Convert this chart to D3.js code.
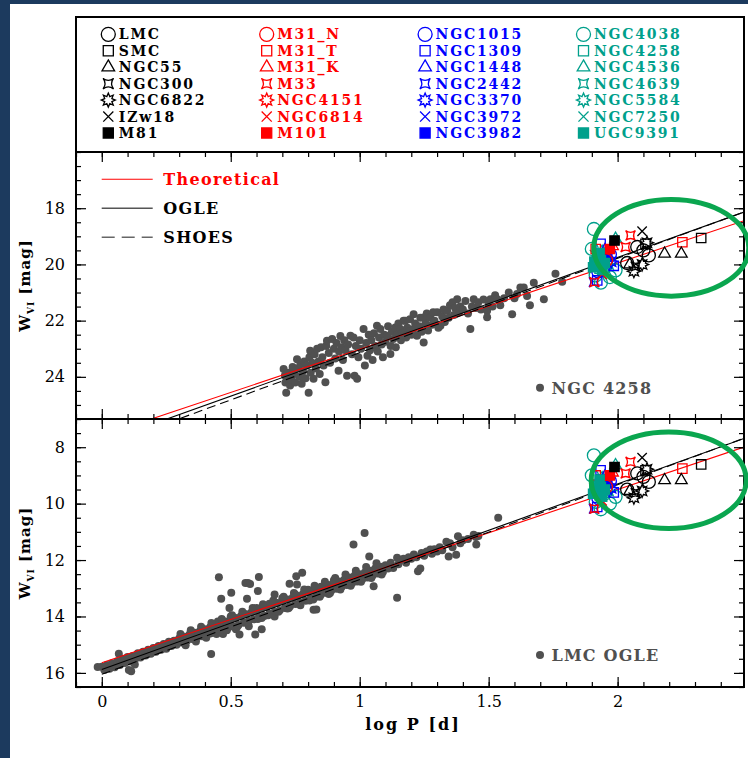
<!DOCTYPE html>
<html>
<head>
<meta charset="UTF-8">
<script src="https://d3js.org/d3.v7.min.js"></script>
<style>
  body { margin: 0; background: #1c3a5e; }
  svg { display: block; }
  .tick text { font-family: "DejaVu Serif", serif; font-size: 16px; fill: #000; }
  .lbl { font-family: "DejaVu Serif", serif; font-weight: bold; }
</style>
</head>
<body>
<div id="chart"></div>
<script>
// ---- data ----
// NGC 4258 Cepheids [logP, W_VI]
const ngc4258Points = [
  [0.705,23.72],[0.71,23.95],[0.712,24.2],[0.715,24.57],[0.72,24.05],[0.725,23.85],[0.73,24.31],[0.735,24.1],
  [0.74,23.65],[0.745,23.9],[0.75,24.2],[0.757,23.37],[0.76,23.7],[0.765,24.0],[0.77,23.55],[0.775,24.25],
  [0.78,23.8],[0.785,23.45],[0.79,24.05],[0.795,23.6],[0.802,24.57],[0.805,23.3],[0.808,23.07],[0.81,23.85],
  [0.815,23.5],[0.821,24.07],[0.825,23.2],[0.83,23.7],[0.835,23.0],[0.84,23.45],[0.845,23.9],[0.85,22.95],
  [0.855,23.3],[0.86,23.6],[0.867,24.19],[0.87,22.9],[0.873,22.72],[0.88,23.15],[0.885,23.5],[0.893,22.65],
  [0.9,23.0],[0.905,23.35],[0.91,22.8],[0.918,23.78],[0.92,23.1],[0.925,22.55],[0.93,22.95],[0.935,23.4],
  [0.94,22.7],[0.945,23.05],[0.951,23.96],[0.955,22.85],[0.964,22.54],[0.97,23.2],[0.976,22.6],[0.98,23.96],
  [0.985,22.9],[0.99,24.07],[0.995,23.3],[1.0,22.7],[1.005,23.0],[1.015,22.3],[1.02,23.6],[1.025,22.8],
  [1.03,23.25],[1.035,22.5],[1.04,23.05],[1.045,22.7],[1.05,23.4],[1.055,22.45],[1.06,22.9],[1.067,22.18],
  [1.07,23.1],[1.075,22.6],[1.08,22.3],[1.085,22.85],[1.09,23.3],[1.095,22.5],[1.1,22.75],[1.106,22.54],
  [1.11,22.2],[1.119,23.19],[1.12,22.9],[1.125,22.4],[1.13,22.65],[1.138,22.24],[1.14,22.95],[1.145,22.5],
  [1.15,22.1],[1.158,22.3],[1.16,22.7],[1.165,22.45],[1.17,22.0],[1.177,22.0],[1.18,22.6],[1.185,22.25],
  [1.19,22.4],[1.195,21.95],[1.2,22.5],[1.209,21.77],[1.209,22.3],[1.215,22.1],[1.222,22.54],[1.23,22.2],
  [1.235,21.9],[1.24,22.4],[1.248,21.89],[1.248,22.78],[1.255,22.1],[1.26,21.75],[1.265,22.35],[1.274,21.89],
  [1.28,22.15],[1.285,21.7],[1.29,22.0],[1.3,21.7],[1.305,22.25],[1.313,22.18],[1.32,21.85],[1.325,21.6],
  [1.33,22.05],[1.339,21.65],[1.345,21.9],[1.35,21.45],[1.36,21.35],[1.365,21.8],[1.37,21.55],[1.378,21.24],
  [1.385,21.7],[1.39,21.5],[1.4,21.6],[1.41,21.3],[1.42,21.75],[1.429,22.3],[1.435,21.5],[1.442,21.24],
  [1.45,21.55],[1.46,21.35],[1.47,21.6],[1.48,21.25],[1.494,21.65],[1.494,21.88],[1.5,21.4],[1.507,21.24],
  [1.515,21.5],[1.525,21.1],[1.533,21.24],[1.545,21.45],[1.56,21.2],[1.578,21.0],[1.591,21.77],[1.6,21.2],
  [1.61,21.05],[1.623,20.82],[1.636,20.82],[1.649,21.12],[1.66,21.45],[1.675,20.65],[1.714,21.24],
  [1.759,20.33],[1.785,20.62]
];

// LMC OGLE Cepheids [logP, W_VI]
const lmcPoints = [
  [0.00,15.78],[0.01,15.90],[0.02,15.72],[0.03,15.85],[0.04,15.66],[0.05,15.80],[0.06,15.60],[0.07,15.72],
  [0.08,15.50],[0.09,15.65],[0.10,15.44],[0.11,15.60],[0.12,15.40],[0.13,15.50],[0.14,15.30],[0.15,15.45],
  [0.16,15.25],[0.17,15.38],[0.18,15.18],[0.19,15.32],[0.20,15.12],[0.21,15.25],[0.22,15.05],[0.23,15.18],
  [0.24,14.98],[0.25,15.14],[0.26,14.90],[0.27,15.05],[0.28,14.86],[0.29,15.00],[0.30,14.78],[0.31,14.92],
  [0.32,14.72],[0.33,14.86],[0.34,14.64],[0.35,14.80],[0.36,14.58],[0.37,14.74],[0.38,14.52],[0.39,14.70],
  [0.40,14.45],[0.41,14.62],[0.42,14.38],[0.43,14.58],[0.44,14.32],[0.45,14.50],[0.46,14.25],[0.47,14.45],
  [0.48,14.18],[0.49,14.40],[0.50,14.12],[0.51,14.35],[0.52,14.05],[0.53,14.30],[0.54,13.98],[0.55,14.22],
  [0.56,13.92],[0.57,14.16],[0.58,13.86],[0.59,14.10],[0.60,13.80],[0.61,14.02],[0.62,13.72],[0.63,13.98],
  [0.64,13.66],[0.65,13.90],[0.66,13.60],[0.67,13.84],[0.68,13.52],[0.69,13.78],[0.70,13.46],[0.71,13.70],
  [0.72,13.40],[0.73,13.64],[0.74,13.34],[0.75,13.56],[0.76,13.27],[0.77,13.50],[0.78,13.20],[0.79,13.44],
  [0.80,13.14],[0.81,13.36],[0.82,13.08],[0.83,13.30],[0.84,13.02],[0.85,13.22],[0.86,12.95],[0.87,13.16],
  [0.88,12.88],[0.89,13.08],[0.90,12.82],[0.91,13.02],[0.92,12.76],[0.93,12.95],[0.94,12.70],[0.95,12.88],
  [0.96,12.62],[0.97,12.82],[0.98,12.56],[0.99,12.76],[1.00,12.50],[1.01,12.68],[1.02,12.44],[1.03,12.62],
  [1.04,12.38],[1.05,12.55],[1.06,12.30],[1.07,12.48],[1.08,12.24],[1.09,12.42],[1.10,12.18],
  [0.42,14.60],[0.45,14.18],[0.47,14.62],[0.50,14.00],[0.52,14.45],[0.55,13.90],[0.57,14.35],[0.60,13.70],
  [0.62,14.05],[0.65,13.55],[0.67,14.00],[0.70,13.35],[0.72,13.72],[0.75,13.22],[0.77,13.60],[0.80,13.05],
  [0.82,13.40],[0.85,12.95],[0.88,13.20],[0.90,12.72],
  [0.305,14.62],[0.345,14.49],[0.385,14.36],[0.425,14.23],[0.465,14.09],[0.505,13.96],[0.545,13.83],
  [0.585,13.70],[0.625,13.57],[0.665,13.43],[0.705,13.30],[0.745,13.17],[0.785,13.04],[0.825,12.91],
  [0.865,12.77],[0.905,12.64],[0.945,12.51],[0.985,12.38],[1.025,12.25],[1.065,12.11],
  [0.325,15.02],[0.365,14.89],[0.405,14.75],[0.445,14.62],[0.485,14.49],[0.525,14.36],[0.565,14.23],
  [0.605,14.09],[0.645,13.96],[0.685,13.83],[0.725,13.70],[0.765,13.57],[0.805,13.43],[0.845,13.30],
  [0.885,13.17],[0.925,13.04],[0.965,12.91],[1.005,12.77],[1.045,12.64],[1.085,12.51],
  [1.11,12.30],[1.12,12.10],[1.13,12.28],[1.145,11.92],[1.15,12.15],[1.16,12.00],[1.17,11.95],[1.18,12.10],
  [1.19,11.90],[1.20,11.95],[1.21,11.80],[1.22,11.90],[1.226,12.40],[1.235,12.30],[1.24,11.75],[1.25,11.85],
  [1.26,11.70],[1.274,11.63],[1.28,11.78],[1.29,11.62],[1.30,11.70],[1.31,11.55],[1.32,11.65],[1.336,11.35],
  [1.345,11.87],[1.35,11.40],[1.36,11.55],[1.374,11.81],[1.381,11.16],[1.39,11.40],[1.40,11.30],[1.42,11.25],
  [1.442,11.10],[1.45,11.18],[1.452,11.45],[1.46,11.15],[1.537,10.50],
  [0.454,12.61],[0.609,12.60],[0.567,12.81],[0.557,12.81],[0.575,12.85],[0.605,13.10],[0.463,13.37],
  [0.502,13.16],[0.563,13.37],[0.495,13.70],[0.728,12.84],[0.754,12.57],[0.777,12.45],[0.757,12.87],
  [0.670,13.22],[0.832,13.75],[0.821,13.76],[0.424,15.33],[0.534,14.64],[0.595,14.64],[0.62,14.45],
  [0.114,15.94],[0.105,15.90],[-0.016,15.79],[0.066,15.32],[0.128,15.70],[1.019,11.04],[0.976,11.45],
  [1.037,11.87],[1.054,12.93],[1.145,13.34]
];

// legend galaxies: 4 columns x 7 rows
const galaxyNames = [
  "LMC","SMC","NGC55","NGC300","NGC6822","IZw18","M81",
  "M31_N","M31_T","M31_K","M33","NGC4151","NGC6814","M101",
  "NGC1015","NGC1309","NGC1448","NGC2442","NGC3370","NGC3972","NGC3982",
  "NGC4038","NGC4258","NGC4536","NGC4639","NGC5584","NGC7250","UGC9391"
];
const columnColors = ["#000000", "#ff0000", "#0000ff", "#00a08c"];
const rowSymbols = ["circle","square","triangle","star4","star8","cross","filled"];

// ultra long period Cepheids [galaxy, logP, W_VI (LMC panel scale)]
const ulpStars = [
  ["NGC4038",1.908,8.29],["NGC4038",1.915,9.94],["NGC4038",1.992,9.76],["NGC4038",1.95,9.65],["NGC4038",1.90,9.0],
  ["NGC4038",1.97,10.0],["NGC4038",1.935,10.2],
  ["NGC4258",1.93,9.7],["NGC4536",1.992,8.64],["NGC4536",1.94,9.1],["NGC4639",1.92,9.35],
  ["NGC5584",1.945,9.25],["NGC5584",1.965,9.55],["NGC7250",1.91,9.2],["NGC7250",1.925,9.55],
  ["NGC1015",1.97,9.2],["NGC1015",1.925,9.8],["NGC1309",1.934,8.82],["NGC1309",1.921,10.12],["NGC1309",1.985,9.6],
  ["NGC1448",1.95,9.05],["NGC2442",1.908,10.18],["NGC2442",1.93,9.3],["NGC3370",1.96,9.3],["NGC3370",1.975,9.45],
  ["NGC3972",1.94,9.5],["NGC3982",1.96,9.15],["NGC3982",1.92,9.45],
  ["M31_N",1.955,9.4],["M31_T",2.251,8.76],["M31_T",1.915,9.0],["M31_K",1.98,8.9],
  ["M33",2.050,8.52],["M33",2.031,8.93],["M33",1.91,10.18],["NGC4151",1.93,9.6],["NGC6814",1.94,9.9],["M101",1.97,9.0],
  ["UGC9391",1.91,9.45],["UGC9391",1.92,9.6],["UGC9391",1.935,9.4],["UGC9391",1.93,9.15],["UGC9391",1.905,9.65],
  ["UGC9391",1.95,9.5],["UGC9391",1.94,9.75],
  ["M81",1.988,8.70],["LMC",2.076,8.93],["LMC",2.121,9.23],["LMC",2.037,9.50],["LMC",2.10,9.05],
  ["SMC",2.324,8.61],["SMC",2.108,8.82],["NGC55",2.182,9.17],["NGC55",2.247,9.17],["NGC55",2.047,9.55],
  ["NGC300",2.07,9.62],["NGC6822",2.063,9.79],["NGC6822",2.095,9.55],["NGC6822",2.114,8.78],["IZw18",2.095,8.37]
];

// PL relations W = a + b logP (LMC panel scale)
const relNames = ["Theoretical", "OGLE", "SHOES"];
const relIntercepts = [15.64, 15.88, 16.05];
const relSlopes = [-3.07, -3.29, -3.36];

// ---- drawing ----
const width = 748, height = 758;
const left = 76, right = 744;

const svg = d3.select("#chart").append("svg").attr("width", width).attr("height", height);
svg.append("rect").attr("width", width).attr("height", height).attr("fill", "#1c3a5e");
svg.append("rect").attr("x", 10).attr("y", 4).attr("width", width - 10).attr("height", height - 4).attr("fill", "#fff");

const x = d3.scaleLinear().domain([-0.1, 2.49]).range([left, right]);

function symbolPath(type, s) {
  switch (type) {
    case "circle": return `M${s},0A${s},${s} 0 1,1 ${-s},0A${s},${s} 0 1,1 ${s},0Z`;
    case "square":
    case "filled": { const h = s * 0.72; return `M${-h},${-h}H${h}V${h}H${-h}Z`; }
    case "triangle": { const a = s * 1.8, h = a * 0.866; return `M0,${-2 * h / 3}L${a / 2},${h / 3}L${-a / 2},${h / 3}Z`; }
    case "star4": { const r = s * 0.75, k = r * 0.25;
      return `M${-r},${-r}Q0,${-k} ${r},${-r}Q${k},0 ${r},${r}Q0,${k} ${-r},${r}Q${-k},0 ${-r},${-r}Z`; }
    case "star8": { const pts = d3.range(16).map(i => {
        const a = i * Math.PI / 8 - Math.PI / 2, r = i % 2 ? s * 0.55 : s;
        return [r * Math.cos(a), r * Math.sin(a)]; });
      return "M" + pts.map(p => p.join(",")).join("L") + "Z"; }
    case "cross": { const h = s * 0.72; return `M${-h},${-h}L${h},${h}M${-h},${h}L${h},${-h}`; }
  }
}

function drawSymbol(g, type, color, cx, cy, s) {
  g.append("path")
    .attr("d", symbolPath(type, s))
    .attr("transform", `translate(${cx},${cy})`)
    .attr("fill", type === "filled" ? color : "none")
    .attr("stroke", color)
    .attr("stroke-width", 1.3);
}

// legend box
const legend = svg.append("g");
legend.append("rect").attr("x", left).attr("y", 17).attr("width", right - left).attr("height", 135)
  .attr("fill", "none").attr("stroke", "#000").attr("stroke-width", 2);
galaxyNames.forEach((name, i) => {
  const col = Math.floor(i / 7), row = i % 7;
  const cx = 108.3 + col * 158.4, cy = 34.3 + row * 16.45;
  drawSymbol(legend, rowSymbols[row], columnColors[col], cx, cy, 7);
  legend.append("text").attr("class", "lbl")
    .attr("x", cx + 10.5).attr("y", cy + 5)
    .attr("font-size", 14).attr("letter-spacing", 1.8)
    .attr("fill", columnColors[col]).text(name);
});

const panels = [
  {label: "NGC 4258", top: 152, bottom: 419, yDomain: [16, 25.5], yTicks: [18, 20, 22, 24], shift: 10.45,
   dots: ngc4258Points, ellipse: [2.208, 19.41], legend: true, xLabels: false},
  {label: "LMC OGLE", top: 419, bottom: 687, yDomain: [7, 16.5], yTicks: [8, 10, 12, 14, 16], shift: 0,
   dots: lmcPoints, ellipse: [2.198, 9.17], legend: false, xLabels: true}
];

const relStyle = [
  {stroke: "#ff0000", dash: null},
  {stroke: "#000000", dash: null},
  {stroke: "#000000", dash: "9,5"}
];

panels.forEach((p, pi) => {
  const y = d3.scaleLinear().domain(p.yDomain).range([p.top, p.bottom]);
  const g = svg.append("g");
  const clipId = "clip" + pi;
  g.append("clipPath").attr("id", clipId).append("rect")
    .attr("x", left).attr("y", p.top).attr("width", right - left).attr("height", p.bottom - p.top);
  const inner = g.append("g").attr("clip-path", `url(#${clipId})`);

  inner.selectAll("circle.dot").data(p.dots).join("circle")
    .attr("class", "dot")
    .attr("cx", d => x(d[0])).attr("cy", d => y(d[1])).attr("r", 4)
    .attr("fill", "#505050");

  relNames.forEach((n, i) => {
    const xs = [0, 2.49];
    inner.append("line")
      .attr("x1", x(xs[0])).attr("y1", y(relIntercepts[i] + relSlopes[i] * xs[0] + p.shift))
      .attr("x2", x(xs[1])).attr("y2", y(relIntercepts[i] + relSlopes[i] * xs[1] + p.shift))
      .attr("stroke", relStyle[i].stroke).attr("stroke-width", 1.1)
      .attr("stroke-dasharray", relStyle[i].dash);
  });

  ulpStars.forEach(([name, lp, w]) => {
    const idx = galaxyNames.indexOf(name);
    drawSymbol(inner, rowSymbols[idx % 7], columnColors[Math.floor(idx / 7)], x(lp), y(w + p.shift), 6.5);
  });

  // axes: ticks inward on all sides
  const yMinor = d3.range(Math.ceil(p.yDomain[0] * 2) / 2, p.yDomain[1] + 0.001, 0.5);
  const xMinor = d3.range(-0.1, 2.49, 0.1).map(v => Math.round(v * 10) / 10);
  const xMajor = [0, 0.5, 1, 1.5, 2];
  const axes = [
    [d3.axisLeft(y).tickValues(p.yTicks).tickSize(-10).tickPadding(11).tickFormat(d3.format("d")), `translate(${left},0)`],
    [d3.axisLeft(y).tickValues(yMinor).tickSize(-5).tickFormat(""), `translate(${left},0)`],
    [d3.axisRight(y).tickValues(p.yTicks).tickSize(-10).tickFormat(""), `translate(${right},0)`],
    [d3.axisRight(y).tickValues(yMinor).tickSize(-5).tickFormat(""), `translate(${right},0)`],
    [d3.axisBottom(x).tickValues(xMajor).tickSize(10).tickFormat(""), `translate(0,${p.top})`],
    [d3.axisBottom(x).tickValues(xMinor).tickSize(5).tickFormat(""), `translate(0,${p.top})`],
    [d3.axisTop(x).tickValues(xMajor).tickSize(10).tickFormat(""), `translate(0,${p.bottom})`],
    [d3.axisTop(x).tickValues(xMinor).tickSize(5).tickFormat(""), `translate(0,${p.bottom})`]
  ];
  axes.forEach(([ax, tr]) => {
    const a = g.append("g").attr("transform", tr).call(ax);
    a.select(".domain").remove();
    a.selectAll(".tick line").attr("stroke", "#000").attr("stroke-width", 1.2);
  });
  if (p.xLabels) {
    const a = g.append("g").attr("transform", `translate(0,${p.bottom})`)
      .call(d3.axisBottom(x).tickValues(xMajor).tickSize(0).tickPadding(9).tickFormat(d => d));
    a.select(".domain").remove();
  }

  g.append("rect").attr("x", left).attr("y", p.top).attr("width", right - left).attr("height", p.bottom - p.top)
    .attr("fill", "none").attr("stroke", "#000").attr("stroke-width", 2);

  // y label
  const yl = g.append("text").attr("class", "lbl").attr("font-size", 15).attr("letter-spacing", 1)
    .attr("text-anchor", "middle")
    .attr("transform", `translate(30,${(p.top + p.bottom) / 2}) rotate(-90)`);
  yl.append("tspan").text("W");
  yl.append("tspan").attr("font-size", 9).attr("dy", 4).text("VI");
  yl.append("tspan").attr("dy", -4).text(" [mag]");

  // panel sample label
  const ly = p.top + (p.label === "NGC 4258" ? 235.7 : 236);
  g.append("circle").attr("cx", 540).attr("cy", ly).attr("r", 4).attr("fill", "#505050");
  g.append("text").attr("class", "lbl").attr("x", 551.5).attr("y", ly + 6)
    .attr("font-size", 16).attr("letter-spacing", 1.2).attr("fill", "#505050").text(p.label);

  if (p.legend) {
    const items = [
      {color: "#ff0000", line: "#ff0000", w: 1.1, dash: null},
      {color: "#000000", line: "#555555", w: 1.6, dash: null},
      {color: "#000000", line: "#666666", w: 1.6, dash: "13,7"}
    ];
    relNames.forEach((n, i) => {
      const yy = 179.3 + i * 29;
      g.append("line").attr("x1", 101.7).attr("x2", 152.7).attr("y1", yy).attr("y2", yy)
        .attr("stroke", items[i].line).attr("stroke-width", items[i].w).attr("stroke-dasharray", items[i].dash);
      g.append("text").attr("class", "lbl").attr("x", 163.3).attr("y", yy + 6)
        .attr("font-size", 16).attr("letter-spacing", 1.3).attr("fill", items[i].color).text(n);
    });
  }

  // highlight ellipse around ULP Cepheids
  svg.append("ellipse")
    .attr("cx", x(p.ellipse[0])).attr("cy", y(p.ellipse[1]))
    .attr("rx", 77.5).attr("ry", 48.3)
    .attr("fill", "none").attr("stroke", "#0aa64f").attr("stroke-width", 5);
});

// x label
svg.append("text").attr("class", "lbl").attr("x", 413).attr("y", 730)
  .attr("text-anchor", "middle").attr("font-size", 16).attr("letter-spacing", 2)
  .text("log P [d]");
</script>
</body>
</html>
